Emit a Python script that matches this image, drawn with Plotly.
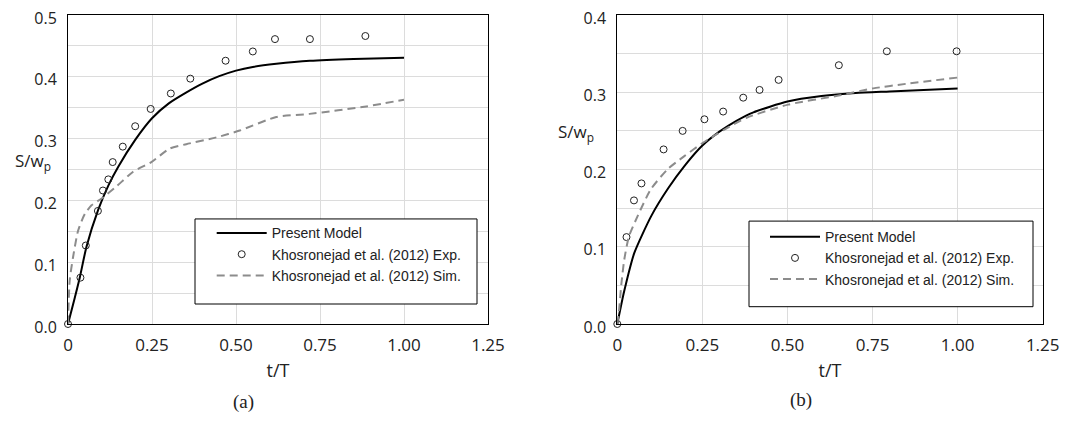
import plotly.graph_objects as go

# ---------------- data: panel (a) ----------------
t_model_a = [0, 0.02, 0.035, 0.055, 0.09, 0.12, 0.15, 0.2, 0.25, 0.3, 0.35, 0.4, 0.45, 0.5, 0.55, 0.62, 0.72, 0.85, 1.0]
s_model_a = [0, 0.042, 0.075, 0.125, 0.185, 0.224, 0.255, 0.298, 0.333, 0.357, 0.374, 0.389, 0.401, 0.410, 0.416, 0.421, 0.426, 0.429, 0.431]

t_exp_a = [0, 0.037, 0.053, 0.089, 0.104, 0.12, 0.133, 0.163, 0.20, 0.246, 0.306, 0.364, 0.469, 0.55, 0.616, 0.72, 0.885]
s_exp_a = [0, 0.075, 0.127, 0.183, 0.216, 0.234, 0.262, 0.287, 0.320, 0.348, 0.373, 0.397, 0.426, 0.441, 0.461, 0.461, 0.466]

t_sim_a = [0, 0.005, 0.015, 0.03, 0.05, 0.07, 0.1, 0.145, 0.193, 0.248, 0.303, 0.352, 0.442, 0.511, 0.62, 0.719, 0.888, 1.0]
s_sim_a = [0, 0.07, 0.108, 0.151, 0.178, 0.192, 0.203, 0.223, 0.246, 0.262, 0.284, 0.291, 0.302, 0.313, 0.335, 0.34, 0.352, 0.363]

# ---------------- data: panel (b) ----------------
t_model_b = [0, 0.02, 0.05, 0.1, 0.15, 0.2, 0.25, 0.3, 0.35, 0.4, 0.5, 0.6, 0.7, 0.8, 0.9, 1.0]
s_model_b = [0, 0.042, 0.092, 0.14, 0.176, 0.206, 0.231, 0.249, 0.263, 0.274, 0.288, 0.295, 0.299, 0.301, 0.303, 0.305]

t_exp_b = [0, 0.027, 0.049, 0.071, 0.136, 0.192, 0.256, 0.311, 0.370, 0.418, 0.474, 0.651, 0.792, 0.997]
s_exp_b = [0, 0.1125, 0.16, 0.182, 0.226, 0.250, 0.265, 0.275, 0.293, 0.303, 0.316, 0.335, 0.353, 0.353]

t_sim_b = [0, 0.005, 0.012, 0.02, 0.034, 0.059, 0.098, 0.147, 0.196, 0.253, 0.312, 0.38, 0.502, 0.654, 0.752, 0.85, 1.0]
s_sim_b = [0, 0.017, 0.052, 0.082, 0.113, 0.139, 0.174, 0.200, 0.217, 0.235, 0.251, 0.267, 0.284, 0.296, 0.305, 0.311, 0.319]

# ---------------- labels ----------------
x_tickvals = [0, 0.25, 0.5, 0.75, 1.0, 1.25]
x_ticktext = ["0", "0.25", "0.50", "0.75", "1.00", "1.25"]
name_model = "Present Model"
name_exp = "Khosronejad et al. (2012) Exp."
name_sim = "Khosronejad et al. (2012) Sim."

# page body has an 8px margin: figure is 1070x413 and all pixel positions below are screen coords
W, H = 1070, 413
OFF = 8

def px(xs):
    return (xs - OFF) / W

SANS = "Open Sans, DejaVu Sans, sans-serif"
XTICKFONT = dict(family=SANS, size=17, color="#222")
YTICKFONT = dict(family=SANS, size=16, color="#222")
GRID = "#dcdcdc"
SIM_COLOR = "#8c8c8c"

fig = go.Figure()

def add_panel(tm, sm, te, se, ts, ss, xa, ya, lg):
    fig.add_trace(go.Scatter(x=tm, y=sm, mode="lines", name=name_model,
                             line=dict(color="black", width=2, shape="spline", smoothing=0.6),
                             xaxis=xa, yaxis=ya, legend=lg))
    fig.add_trace(go.Scatter(x=te, y=se, mode="markers", name=name_exp,
                             marker=dict(symbol="circle-open", size=7, color="#222", line=dict(width=1)),
                             cliponaxis=False, xaxis=xa, yaxis=ya, legend=lg))
    fig.add_trace(go.Scatter(x=ts, y=ss, mode="lines", name=name_sim,
                             line=dict(color=SIM_COLOR, width=2, dash="8px,5px", shape="spline", smoothing=0.6),
                             xaxis=xa, yaxis=ya, legend=lg))

add_panel(t_model_a, s_model_a, t_exp_a, s_exp_a, t_sim_a, s_sim_a, "x", "y", "legend")
add_panel(t_model_b, s_model_b, t_exp_b, s_exp_b, t_sim_b, s_sim_b, "x2", "y2", "legend2")

def xaxis_cfg(domain, anchor):
    return dict(domain=domain, anchor=anchor, range=[0, 1.25], tickvals=x_tickvals, ticktext=x_ticktext,
                showgrid=True, gridcolor=GRID, gridwidth=1, zeroline=False, automargin=False,
                showline=True, mirror=True, linecolor="black", linewidth=1, ticks="",
                tickfont=XTICKFONT, ticklabelstandoff=6, ticklabeloverflow="allow",
                title=dict(text="t/T", font=dict(family=SANS, size=18, color="#222"), standoff=8))

def yaxis_cfg(rng, anchor):
    return dict(domain=[0, 1], anchor=anchor, range=rng, dtick=0.1, tick0=0, tickformat=".1f",
                showgrid=True, gridcolor=GRID, gridwidth=1, zeroline=False, automargin=False,
                minor=dict(dtick=0.05, showgrid=True, gridcolor=GRID, gridwidth=1, ticks=""),
                showline=True, mirror=True, linecolor="black", linewidth=1, ticks="",
                tickfont=YTICKFONT, ticklabelstandoff=7, ticklabelshift=3, ticklabeloverflow="allow")

LEGFONT = dict(family="Liberation Sans, Arial, sans-serif", size=14, color="#222")

fig.update_layout(
    template="none",
    width=W, height=H,
    margin=dict(l=0, r=0, t=7, b=97, autoexpand=False),
    paper_bgcolor="white", plot_bgcolor="white",
    xaxis=xaxis_cfg([px(68), px(488)], "y"),
    yaxis=yaxis_cfg([0, 0.5], "x"),
    xaxis2=xaxis_cfg([px(617.3), px(1042.7)], "y2"),
    yaxis2=yaxis_cfg([0, 0.4], "x2"),
    legend=dict(x=px(211.7), y=0.345, xanchor="left", yanchor="top", bgcolor="rgba(0,0,0,0)",
                borderwidth=0, font=LEGFONT, itemwidth=50, tracegroupgap=0),
    legend2=dict(x=px(765), y=0.333, xanchor="left", yanchor="top", bgcolor="rgba(0,0,0,0)",
                 borderwidth=0, font=LEGFONT, itemwidth=50, tracegroupgap=0),
    shapes=[
        dict(type="rect", xref="paper", yref="paper", x0=px(195), x1=px(477), y0=0.0647, y1=0.340,
             line=dict(color="black", width=1), fillcolor="white", layer="above"),
        dict(type="rect", xref="paper", yref="paper", x0=px(749), x1=px(1033), y0=0.056, y1=0.333,
             line=dict(color="black", width=1), fillcolor="white", layer="above"),
    ],
    annotations=[
        dict(text="S/w<sub>p</sub>", xref="paper", yref="paper", x=px(33), y=0.525, showarrow=False,
             xanchor="center", yanchor="middle", font=dict(family=SANS, size=17, color="#222")),
        dict(text="S/w<sub>p</sub>", xref="paper", yref="paper", x=px(576), y=0.621, showarrow=False,
             xanchor="center", yanchor="middle", font=dict(family=SANS, size=17, color="#222")),
        dict(text="(a)", xref="paper", yref="paper", x=px(243), y=-0.251, showarrow=False,
             xanchor="center", yanchor="middle",
             font=dict(family="Liberation Serif, Times New Roman, serif", size=19, color="#222")),
        dict(text="(b)", xref="paper", yref="paper", x=px(801), y=-0.245, showarrow=False,
             xanchor="center", yanchor="middle",
             font=dict(family="Liberation Serif, Times New Roman, serif", size=19, color="#222")),
    ],
)

fig.write_html("out.html")
